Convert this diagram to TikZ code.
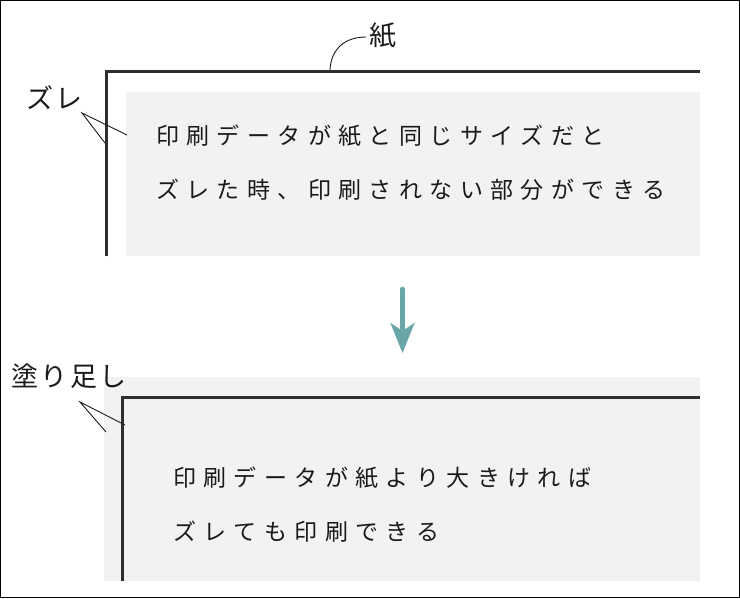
\documentclass[tikz,border=0pt]{standalone}
\usepackage{fontspec}
\setmainfont{Noto Sans CJK JP}
\usetikzlibrary{arrows.meta}
\definecolor{framegray}{HTML}{2E2E2E}
\definecolor{bleedgray}{HTML}{F2F2F2}
\definecolor{arrowteal}{HTML}{6AA6A7}
\definecolor{inkcol}{HTML}{1A1A1A}
\newdimen\ltrsp
\def\lspc#1{\ifx#1\relax\else#1\kern\ltrsp\expandafter\lspc\fi}
\newcommand\bodytxt[1]{{\fontsize{23pt}{23pt}\selectfont\ltrsp=7.4pt\lspc#1\relax}}
\newcommand\labeltxt[1]{{\fontsize{27pt}{27pt}\selectfont\ltrsp=2.6pt\lspc#1\relax}}
\tikzset{
  bodytext/.style={anchor=west, inner sep=0pt, text=inkcol},
  labeltext/.style={anchor=west, inner sep=0pt, text=inkcol},
  paperframe/.style={draw=framegray, line width=3pt, line join=miter},
  bleedarea/.style={fill=bleedgray, draw=none},
  leader/.style={draw=inkcol, line width=0.9pt},
  bigarrow/.style={draw=arrowteal, line width=4.5pt, line cap=round,
    -{Stealth[length=30pt,width=24pt,inset=8pt,line join=miter,fill=arrowteal]}},
}
\begin{document}
\begin{tikzpicture}[x=1pt,y=-1pt]
\useasboundingbox (0,0) rectangle (740,598);
\fill[white] (0,0) rectangle (740,598);
\draw[black, line width=1pt] (0.5,0.5) rectangle (739.5,597.5);

% ---- top: data same size as paper ----
\fill[bleedarea] (126,92) rectangle (700,256);
\draw[paperframe] (106,256) -- (106,71.5) -- (700,71.5);

\node[labeltext] (kami) at (369,36) {\labeltxt{紙}};
\coordinate (kamiFoot) at (330,70);
\coordinate (kamiEnd) at (366,37);
\draw[leader] (kamiFoot) .. controls (331,48) and (346,37) .. (kamiEnd);

\node[labeltext] (zure) at (26,98) {\labeltxt{ズレ}};
\coordinate (zureTip) at (82,113);
\coordinate (zureA) at (105,143);
\coordinate (zureB) at (127,135);
\draw[leader] (zureA) -- (zureTip) -- (zureB);

\node[bodytext] (t1) at (156,136) {\bodytxt{印刷データが紙と同じサイズだと}};
\node[bodytext] (t2) at (156,190) {\bodytxt{ズレた時、印刷されない部分ができる}};

% ---- arrow ----
\coordinate (arrTop) at (402.5,289);
\coordinate (arrTip) at (402.5,353);
\draw[bigarrow] (arrTop) -- (arrTip);

% ---- bottom: data larger than paper ----
\fill[bleedarea] (104,377) rectangle (700,581);
\draw[paperframe] (122.5,581) -- (122.5,397.5) -- (700,397.5);

\node[labeltext] (nuri) at (11,376) {\labeltxt{塗り足し}};
\coordinate (nuriTip) at (80,402);
\coordinate (nuriA) at (106,432);
\coordinate (nuriB) at (125,425);
\draw[leader] (nuriA) -- (nuriTip) -- (nuriB);

\node[bodytext] (b1) at (173,478) {\bodytxt{印刷データが紙より大きければ}};
\node[bodytext] (b2) at (173,532) {\bodytxt{ズレても印刷できる}};
\end{tikzpicture}
\end{document}
